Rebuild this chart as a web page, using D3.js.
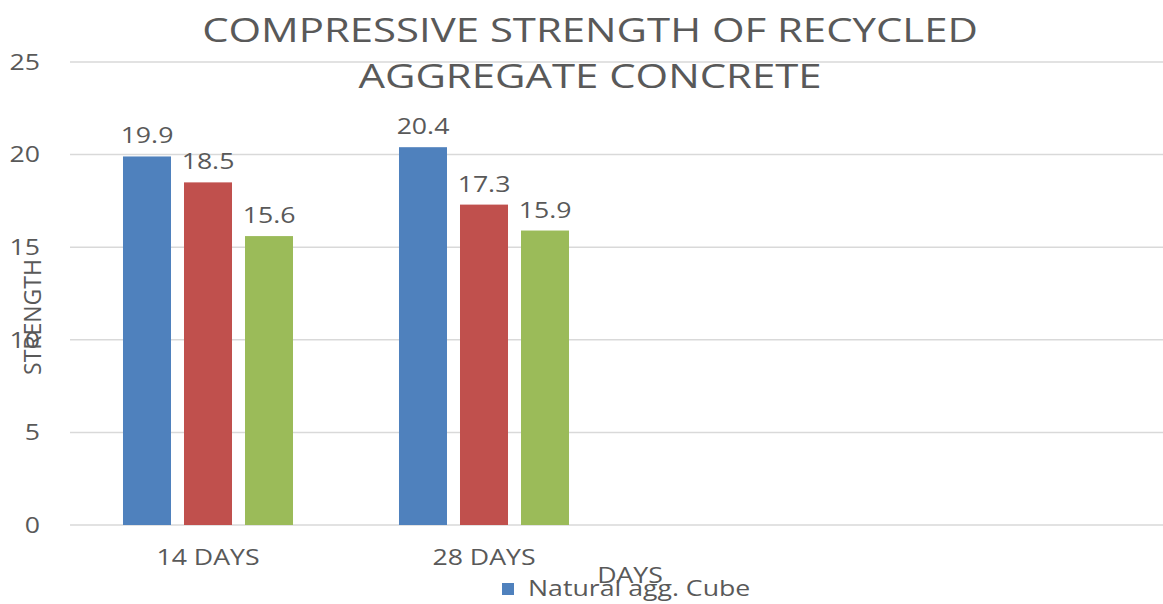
<!DOCTYPE html>
<html>
<head>
<meta charset="utf-8">
<script src="https://cdn.jsdelivr.net/npm/d3@7"></script>
<style>
  body { margin: 0; background: #fff; }
  svg text { font-family: "Open Sans", sans-serif; fill: #595959; }
</style>
</head>
<body>
<div id="chart"></div>
<script>
// data
const categories = ['14 DAYS', '28 DAYS', ' ', '  '];
const seriesNames = ['Natural agg. Cube', 'Recycled agg. Cube A', 'Recycled agg. Cube B'];
const natural = [19.9, 20.4, null, null];
const recycledA = [18.5, 17.3, null, null];
const recycledB = [15.6, 15.9, null, null];
const yTicks = [0, 5, 10, 15, 20, 25];
const colors = ['#4F81BD', '#C0504D', '#9BBB59'];

const W = 1163, H = 604;
const sx = 1.27; // the reference is stretched sideways, text too

const svg = d3.select('#chart').append('svg')
  .attr('width', W)
  .attr('height', H);

const x0 = d3.scaleBand()
  .domain(categories)
  .range([70, 1174])
  .paddingInner(0.384)
  .paddingOuter(0.192);

const x1 = d3.scaleBand()
  .domain(seriesNames)
  .range([0, x0.bandwidth()])
  .paddingInner(0.213);

const y = d3.scaleLinear()
  .domain([0, 25])
  .range([525, 62]);

function label(parent, x, y, str, size, anchor) {
  return parent.append('text')
    .attr('transform', `translate(${x},${y}) scale(${sx},1)`)
    .attr('text-anchor', anchor || 'middle')
    .style('font-size', size + 'px')
    .text(str);
}

// grid lines
svg.append('g')
  .selectAll('line')
  .data(yTicks)
  .enter().append('line')
  .attr('x1', 70)
  .attr('x2', W)
  .attr('y1', d => y(d))
  .attr('y2', d => y(d))
  .attr('stroke', '#d9d9d9')
  .attr('stroke-width', 1.5);

// y axis labels
const yAxis = svg.append('g')
  .attr('transform', 'translate(70,0)')
  .call(d3.axisLeft(y).tickValues(yTicks).tickSize(0).tickPadding(0));
yAxis.select('.domain').remove();
yAxis.selectAll('text')
  .attr('x', null)
  .attr('dy', '0.35em')
  .attr('transform', `translate(-30,0) scale(${sx},1)`)
  .style('font-size', '21px')
  .style('font-family', '"Open Sans", sans-serif');

// x axis labels
const xAxis = svg.append('g')
  .attr('transform', 'translate(0,525)')
  .call(d3.axisBottom(x0).tickSize(0).tickPadding(0));
xAxis.select('.domain').remove();
xAxis.selectAll('text')
  .attr('y', null)
  .attr('dy', null)
  .attr('transform', `translate(0,40) scale(${sx},1)`)
  .style('font-size', '21px')
  .style('font-family', '"Open Sans", sans-serif');

// bars
const rows = categories.map((c, i) => ({
  category: c,
  values: [natural[i], recycledA[i], recycledB[i]]
}));

const groups = svg.selectAll('.group')
  .data(rows)
  .enter().append('g')
  .attr('class', 'group')
  .attr('transform', d => `translate(${x0(d.category)},0)`);

const cells = groups.selectAll('.cell')
  .data(d => d.values.map((v, j) => ({ name: seriesNames[j], value: v, j })).filter(e => e.value != null))
  .enter().append('g')
  .attr('class', 'cell');

cells.append('rect')
  .attr('x', d => x1(d.name))
  .attr('y', d => y(d.value))
  .attr('width', x1.bandwidth())
  .attr('height', d => y(0) - y(d.value))
  .attr('fill', d => colors[d.j]);

cells.each(function (d) {
  label(d3.select(this), x1(d.name) + x1.bandwidth() / 2, y(d.value) - 13, d.value.toFixed(1), 21);
});

// titles
label(svg, 590, 42, 'COMPRESSIVE STRENGTH OF RECYCLED', 33);
label(svg, 590, 88, 'AGGREGATE CONCRETE', 33);

svg.append('text')
  .attr('transform', 'translate(41,317) rotate(-90)')
  .attr('text-anchor', 'middle')
  .style('font-size', '23px')
  .text('STRENGTH');

label(svg, 630, 583, 'DAYS', 21);

// legend (only the first entry fits in the frame)
const legend = svg.append('g').attr('transform', 'translate(502,583)');
legend.append('rect')
  .attr('width', 12)
  .attr('height', 12)
  .attr('fill', colors[0]);
label(legend, 26, 13, seriesNames[0], 21, 'start');
</script>
</body>
</html>
